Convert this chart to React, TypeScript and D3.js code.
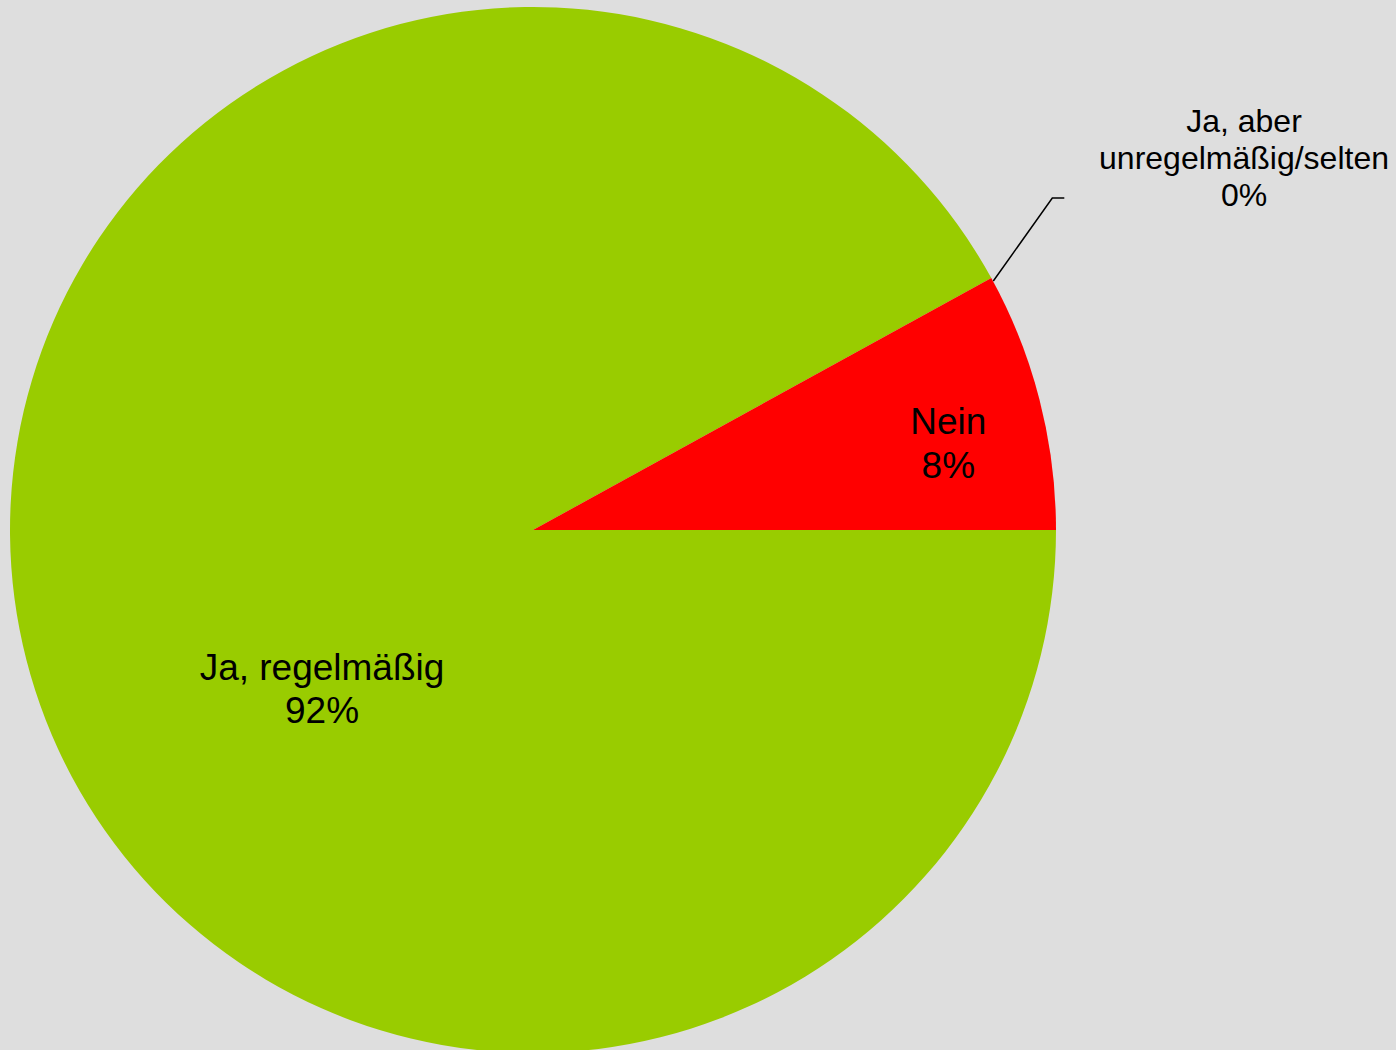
import React from "react";
import * as d3 from "d3";

const categories = ["Ja, regelmäßig", "Ja, aber unregelmäßig/selten", "Nein"];
const values = [92, 0, 8];
const colors = ["#99CC00", "#3366CC", "#FF0000"];

const W = 1396;
const H = 1050;
const cx = 533;
const cy = 530;
const R = 523;

export default function App() {
  const pie = d3
    .pie<number>()
    .sort(null)
    .startAngle(Math.PI / 2)
    .endAngle(Math.PI / 2 + 2 * Math.PI)
    .value((d) => d);
  const arcs = pie(values);
  const arc = d3.arc<d3.PieArcDatum<number>>().innerRadius(0).outerRadius(R);

  const neinArc = arcs[2];
  const neinMid = (neinArc.startAngle + neinArc.endAngle) / 2;
  const neinX = Math.sin(neinMid) * R * 0.81 + 5;
  const neinY = -Math.cos(neinMid) * R * 0.81;

  const zeroArc = arcs[1];
  const zx = Math.sin(zeroArc.startAngle) * R;
  const zy = -Math.cos(zeroArc.startAngle) * R;

  const fam = "'Liberation Sans', Arial, sans-serif";

  return (
    <svg
      width={W}
      height={H}
      style={{ position: "absolute", left: 0, top: 0, display: "block" }}
    >
      <rect width={W} height={H} fill="#DEDEDE" />
      <g transform={`translate(${cx},${cy})`}>
        {arcs.map((a, i) =>
          a.value > 0 ? (
            <path key={i} d={arc(a) || ""} fill={colors[i]} />
          ) : null
        )}
        <polyline
          points={`${zx + 2},${zy + 3} ${zx + 61},${zy - 80} ${zx + 73},${zy - 80}`}
          fill="none"
          stroke="#000"
          strokeWidth={1.5}
        />
        <text textAnchor="middle" fontFamily={fam} fontSize={37} fill="#000">
          <tspan x={neinX} y={neinY + 9}>{categories[2]}</tspan>
          <tspan x={neinX} dy={44}>{values[2]}%</tspan>
        </text>
        <text textAnchor="middle" fontFamily={fam} fontSize={37} fill="#000">
          <tspan x={-211} y={150}>{categories[0]}</tspan>
          <tspan x={-211} dy={43}>{values[0]}%</tspan>
        </text>
        <text textAnchor="middle" fontFamily={fam} fontSize={32} fill="#000">
          <tspan x={711} y={-398}>Ja, aber</tspan>
          <tspan x={711} dy={37}>unregelmäßig/selten</tspan>
          <tspan x={711} dy={37}>{values[1]}%</tspan>
        </text>
      </g>
    </svg>
  );
}
